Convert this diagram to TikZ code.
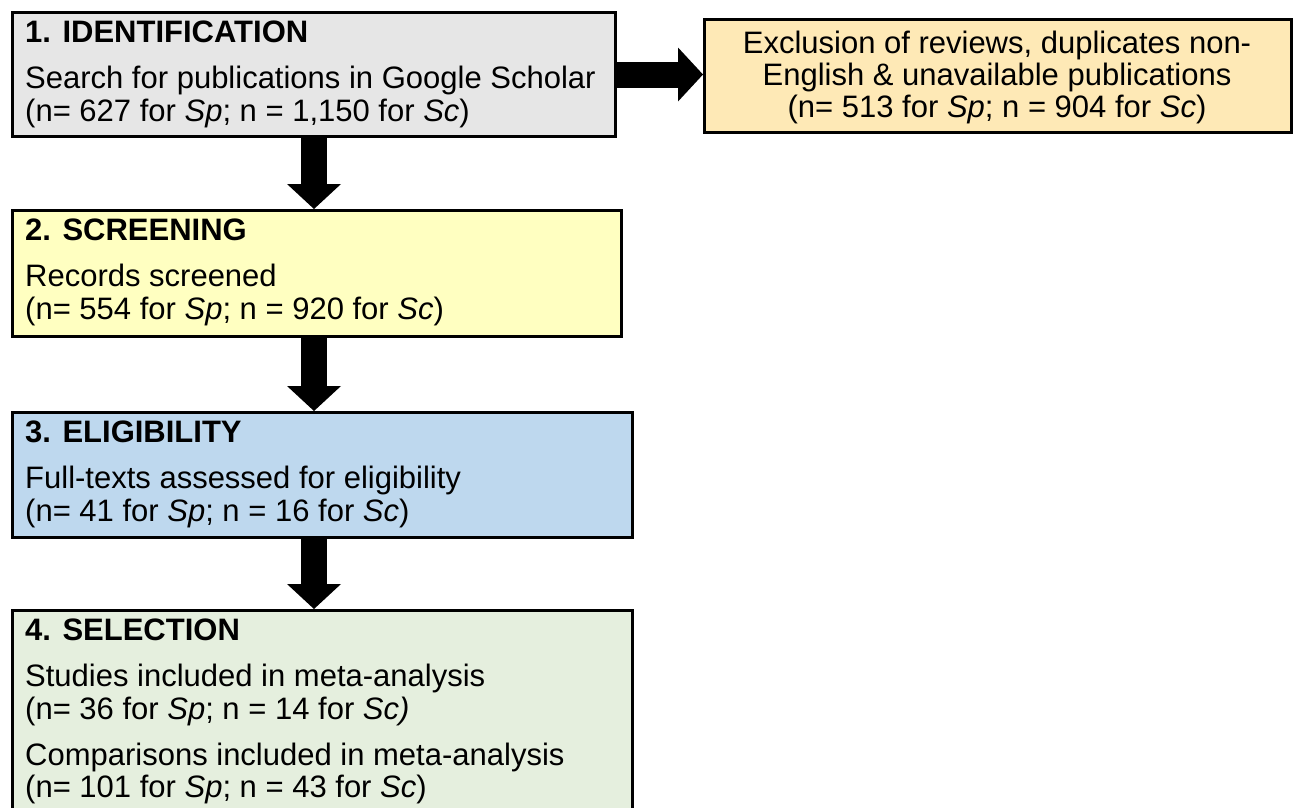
\documentclass[tikz,border=0pt]{standalone}
\usepackage{fontspec}
\setmainfont{Liberation Sans}
\usetikzlibrary{arrows.meta, positioning}
\definecolor{identgray}{RGB}{230, 230, 230}
\definecolor{excludeorange}{RGB}{254, 233, 182}
\definecolor{screenyellow}{RGB}{255, 255, 193}
\definecolor{eligblue}{RGB}{190, 216, 238}
\definecolor{selectgreen}{RGB}{229, 239, 222}

\begin{document}
\begin{tikzpicture}[x=1pt, y=-1pt,
    box/.style={draw=black, line width=3pt, anchor=north west, inner sep=0pt},
    head/.style={anchor=base west, inner sep=0pt, font=\fontsize{31}{33}\selectfont\bfseries},
    body/.style={anchor=base west, inner sep=0pt, font=\fontsize{31}{33}\selectfont},
    exbody/.style={anchor=base, inner sep=0pt, font=\fontsize{31}{33}\selectfont},
    flow/.style={line width=26pt, -{Triangle[width=54pt, length=25pt, line width=0pt]}}]
  \useasboundingbox (0,0) rectangle (1295,807);

  % 1. Identification
  \node[box, fill=identgray, minimum width=603pt, minimum height=124pt] (ident) at (11,11) {};
  \node[head] (identhead) at (25,42) {1. IDENTIFICATION};
  \node[body] (identa) at (25,88) {Search for publications in Google Scholar};
  \node[body] (identb) at (25,121) {(n= 627 for \textit{Sp}; n = 1,150 for \textit{Sc})};

  % Exclusion (side box)
  \node[box, fill=excludeorange, minimum width=587pt, minimum height=113pt] (excl) at (703,18) {};
  \node[exbody] (excla) at (997,53) {Exclusion of reviews, duplicates non-};
  \node[exbody] (exclb) at (997,85) {English \& unavailable publications};
  \node[exbody] (exclc) at (997,117) {(n= 513 for \textit{Sp}; n = 904 for \textit{Sc})};

  % 2. Screening
  \node[box, fill=screenyellow, minimum width=609pt, minimum height=126pt] (screen) at (11,209) {};
  \node[head] (screenhead) at (25,240) {2. SCREENING};
  \node[body] (screena) at (25,286) {Records screened};
  \node[body] (screenb) at (25,319) {(n= 554 for \textit{Sp}; n = 920 for \textit{Sc})};

  % 3. Eligibility
  \node[box, fill=eligblue, minimum width=620pt, minimum height=125pt] (elig) at (11,411) {};
  \node[head] (elighead) at (25,442) {3. ELIGIBILITY};
  \node[body] (eliga) at (25,488) {Full-texts assessed for eligibility};
  \node[body] (eligb) at (25,521) {(n= 41 for \textit{Sp}; n = 16 for \textit{Sc})};

  % 4. Selection (runs past the lower edge)
  \node[box, fill=selectgreen, minimum width=620pt, minimum height=215pt] (select) at (11,609) {};
  \node[head] (selecthead) at (25,640) {4. SELECTION};
  \node[body] (selecta) at (25,686) {Studies included in meta-analysis};
  \node[body] (selectb) at (25,719) {(n= 36 for \textit{Sp}; n = 14 for \textit{Sc)}};
  \node[body] (selectc) at (25,765) {Comparisons included in meta-analysis};
  \node[body] (selectd) at (25,797) {(n= 101 for \textit{Sp}; n = 43 for \textit{Sc})};

  % Block arrows
  \draw[flow] (ident.south) -- (ident.south |- screen.north);
  \draw[flow] (ident.south |- screen.south) -- (ident.south |- elig.north);
  \draw[flow] (ident.south |- elig.south) -- (ident.south |- select.north);
  \draw[flow] (ident.east) -- (ident.east -| excl.west);
\end{tikzpicture}
\end{document}
